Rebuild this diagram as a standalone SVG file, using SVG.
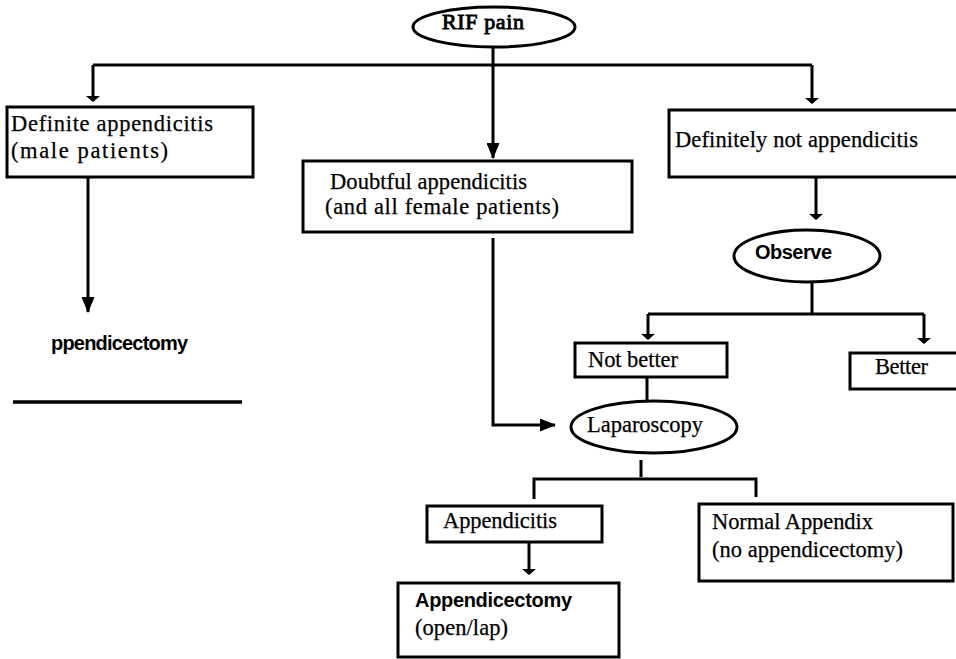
<svg xmlns="http://www.w3.org/2000/svg" width="956" height="659" viewBox="0 0 956 659">
<defs>
<style>
.box{fill:#fff;stroke:#000;stroke-width:3}
.ell{fill:#fff;stroke:#000;stroke-width:3}
.ln{fill:none;stroke:#000;stroke-width:3}
.t{font-family:"Liberation Serif","Times New Roman",serif;font-size:22.5px;fill:#000;stroke:#000;stroke-width:0.25}
.tb{font-family:"Liberation Serif","Times New Roman",serif;font-size:22px;fill:#000;stroke:#000;stroke-width:0.9}
.ts{font-family:"Liberation Sans",Arial,sans-serif;font-size:20px;font-weight:bold;fill:#000}
</style>
<marker id="tee" markerUnits="userSpaceOnUse" viewBox="0 0 6 14" refX="5" refY="7" markerWidth="6" markerHeight="14" orient="auto">
<path d="M0,0 L6,7 L0,14 z" fill="#000"/>
</marker>
<marker id="arr" markerUnits="userSpaceOnUse" viewBox="0 0 16 13" refX="15" refY="6.5" markerWidth="16" markerHeight="13" orient="auto">
<path d="M0,0 L16,6.5 L0,13 z" fill="#000"/>
</marker>
</defs>
<rect width="956" height="659" fill="#fff"/>

<g id="connectors">
<path class="ln" d="M493,47 V158" marker-end="url(#arr)"/>
<path class="ln" d="M93,65 H812"/>
<path class="ln" d="M93,65 V101" marker-end="url(#tee)"/>
<path class="ln" d="M812,65 V103" marker-end="url(#tee)"/>
<path class="ln" d="M88,177 V312" marker-end="url(#arr)"/>
<path class="ln" d="M493,238 V425 H555" marker-end="url(#arr)"/>
<path class="ln" d="M816,177 V219" marker-end="url(#tee)"/>
<path class="ln" d="M812,282 V314"/>
<path class="ln" d="M648,314 H924"/>
<path class="ln" d="M648,314 V339" marker-end="url(#tee)"/>
<path class="ln" d="M924,314 V343" marker-end="url(#tee)"/>
<path class="ln" d="M647,377 V401"/>
<path class="ln" d="M641,460 V477"/>
<path class="ln" d="M534,499 V479 H756 V497"/>
<path class="ln" d="M529,542 V574" marker-end="url(#tee)"/>
</g>

<g id="rif-pain">
<ellipse class="ell" cx="494" cy="27" rx="81" ry="20"/>
<text class="tb" x="442" y="29" textLength="82">RIF pain</text>
</g>

<g id="definite">
<rect class="box" x="7" y="107" width="246" height="70"/>
<text class="t" x="11" y="131" textLength="202">Definite appendicitis</text>
<text class="t" x="11" y="158" textLength="157">(male patients)</text>
</g>

<g id="appendicectomy-left">
<text class="ts" x="51" y="350" textLength="137">ppendicectomy</text>
<path d="M13,402 H242" stroke="#000" stroke-width="3.5" fill="none"/>
</g>

<g id="doubtful">
<rect class="box" x="303" y="161" width="329" height="71"/>
<text class="t" x="330" y="189" textLength="197">Doubtful appendicitis</text>
<text class="t" x="325" y="214" textLength="234">(and all female patients)</text>
</g>

<g id="definitely-not">
<rect class="box" x="669" y="110" width="295" height="67"/>
<text class="t" x="675" y="147" textLength="243">Definitely not appendicitis</text>
</g>

<g id="observe">
<ellipse class="ell" cx="807" cy="256" rx="73" ry="26"/>
<text class="ts" x="755" y="259" textLength="77">Observe</text>
</g>

<g id="not-better">
<rect class="box" x="575" y="343" width="152" height="34"/>
<text class="t" x="588" y="367" textLength="90">Not better</text>
</g>

<g id="better">
<rect class="box" x="850" y="353" width="114" height="36"/>
<text class="t" x="875" y="374" textLength="53">Better</text>
</g>

<g id="laparoscopy">
<ellipse class="ell" cx="654" cy="427" rx="83" ry="26"/>
<text class="t" x="587" y="432" textLength="116">Laparoscopy</text>
</g>

<g id="appendicitis">
<rect class="box" x="427" y="506" width="175" height="36"/>
<text class="t" x="443" y="528" textLength="114">Appendicitis</text>
</g>

<g id="normal-appendix">
<rect class="box" x="699" y="504" width="254" height="77"/>
<text class="t" x="712" y="529" textLength="161">Normal Appendix</text>
<text class="t" x="712" y="557" textLength="191">(no appendicectomy)</text>
</g>

<g id="appendicectomy">
<rect class="box" x="398" y="583" width="221" height="74"/>
<text class="ts" x="415" y="607" textLength="157">Appendicectomy</text>
<text class="t" x="415" y="635" textLength="93">(open/lap)</text>
</g>
</svg>
